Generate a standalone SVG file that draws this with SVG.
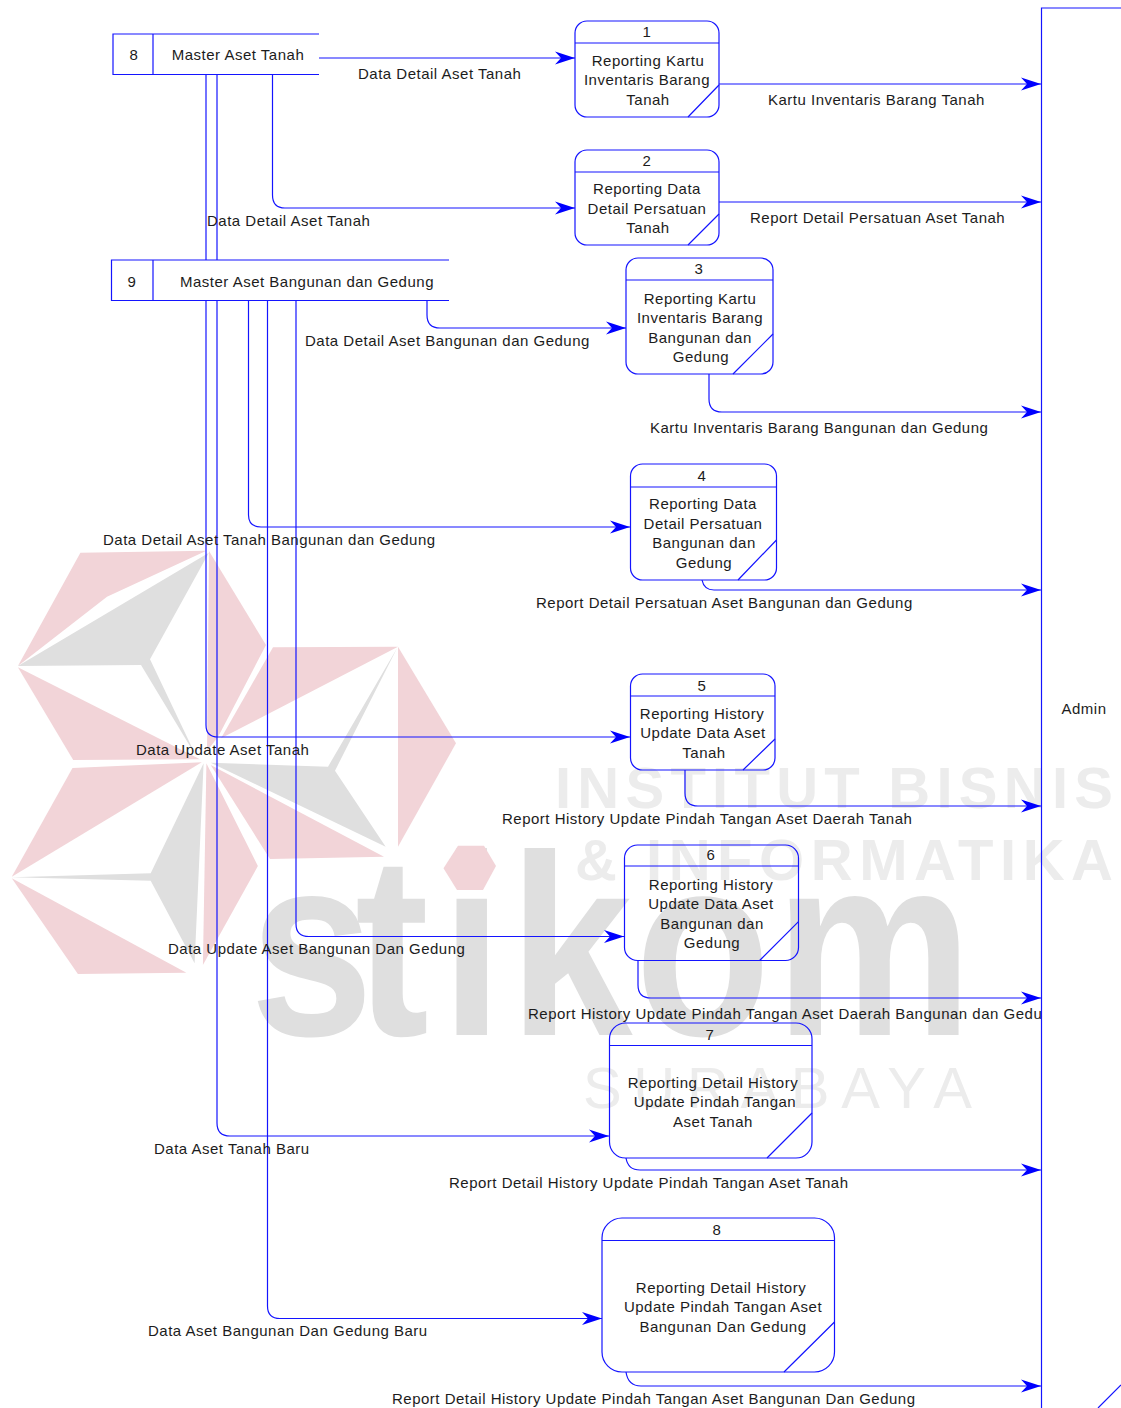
<svg xmlns="http://www.w3.org/2000/svg" width="1121" height="1408" viewBox="0 0 1121 1408">
<style>
text{font-family:"Liberation Sans",Arial,sans-serif;font-size:15px;fill:#1c1c1c;letter-spacing:.5px}
.m{text-anchor:middle}
.b{fill:none;stroke:#1414ff;stroke-width:1.2}
.c{fill:none;stroke:#1414ff;stroke-width:1.2;marker-end:url(#arr)}
.p{fill:#f2d4d8}
.g{fill:#dfdfdf}
text.w{font-weight:bold;font-size:58px;fill:#ececec;letter-spacing:0}
text.s{font-weight:bold;font-size:258px;fill:#dfdfdf;letter-spacing:0}
text.y{font-size:58px;fill:#ececec;letter-spacing:0}
</style>
<defs>
<marker id="arr" markerUnits="userSpaceOnUse" markerWidth="22" markerHeight="14" refX="20" refY="7" orient="auto">
<path d="M20,7 L0,0.5 L6,7 L0,13.5 Z" fill="#0000ff"/>
</marker>
<clipPath id="clipA"><rect x="0" y="0" width="1041" height="1408"/></clipPath>
</defs>
<rect width="1121" height="1408" fill="#fff"/>
<g id="watermark">
<polygon class="p" points="80.4,552.7 206.4,550.7 107,596.7 17.9,666"/>
<polygon class="g" points="208.9,552.7 17.9,666 141,665 196.4,756.7 150,659.3"/>
<polygon class="p" points="17.9,667.3 73.2,760 200,759.3"/>
<polygon class="p" points="209,551 266,645 218,737 207,751"/>
<polygon class="p" points="273,647.3 398,646.7 221,738.3"/>
<polygon class="g" points="397,648.3 328,766.7 210.7,762.7 385.7,846.7 335,770.7"/>
<polygon class="p" points="398,646.7 456,743.3 398,846.7"/>
<polygon class="p" points="210.7,765 384,856.7 270,859"/>
<polygon class="p" points="72.5,768 201.8,762.3 11.8,876.7"/>
<polygon class="g" points="203.6,763.3 150.7,873.3 11.8,877.3 150.7,880.7 194.6,963.3"/>
<polygon class="p" points="11.8,878.3 77.9,974 186.4,972.7"/>
<polygon class="p" points="206.4,763.3 257.9,866 202.9,965"/>
<text class="w" x="555" y="808" textLength="558" lengthAdjust="spacing">INSTITUT BISNIS</text>
<text class="w" x="575" y="880" textLength="538" lengthAdjust="spacing">&amp; INFORMATIKA</text>
<text class="y" x="583" y="1108" textLength="389" lengthAdjust="spacing">SURABAYA</text>
<text class="s" transform="scale(.86,1)" x="290.700 412.800 512.800 592 738.400 901.200" y="1035">stikom</text>
<polygon points="458,845.700 484,845.700 496,866 483,890 457,890 443.500,868.300" fill="#f2d4d8"/>
</g>
<g id="connectors">
<path class="c" d="M319,58 H575"/>
<path class="b" d="M206,75 V260"/>
<path class="b" d="M217,75 V260"/>
<path class="c" d="M272.5,75 V195 Q272.5,208 285,208 H575"/>
<path class="c" d="M719,84 H1041"/>
<path class="c" d="M719,202 H1041"/>
<path class="c" d="M427,301 V315 Q427,328 440,328 H626"/>
<path class="c" d="M709,374 V399 Q709,412 722,412 H1041"/>
<path class="c" d="M248.5,301 V515 Q248.5,527 261,527 H630"/>
<path class="c" d="M702,580 Q704,590 714,590 H1041"/>
<path class="c" d="M206,301 V725 Q206,737 218,737 H630"/>
<path class="c" d="M685,770 V793 Q685,806 698,806 H1041"/>
<path class="c" d="M296,301 V924 Q296,936.5 309,936.5 H624"/>
<path class="c" d="M638,960 V985 Q638,998 651,998 H1041"/>
<path class="c" d="M217,301 V1123 Q217,1136 230,1136 H609"/>
<path class="c" d="M626,1158 Q628,1170 640,1170 H1041"/>
<path class="c" d="M267.5,301 V1306 Q267.5,1318.5 280,1318.5 H602"/>
<path class="c" d="M626,1372 Q628,1386 641,1386 H1041"/>
</g>
<g id="connector-labels">
<text x="358" y="79">Data Detail Aset Tanah</text>
<text x="768" y="105">Kartu Inventaris Barang Tanah</text>
<text x="750" y="223">Report Detail Persatuan Aset Tanah</text>
<text x="207" y="226">Data Detail Aset Tanah</text>
<text x="305" y="346">Data Detail Aset Bangunan dan Gedung</text>
<text x="650" y="433">Kartu Inventaris Barang Bangunan dan Gedung</text>
<text x="103" y="545">Data Detail Aset Tanah Bangunan dan Gedung</text>
<text x="536" y="608">Report Detail Persatuan Aset Bangunan dan Gedung</text>
<text x="136" y="755">Data Update Aset Tanah</text>
<text x="502" y="824">Report History Update Pindah Tangan Aset Daerah Tanah</text>
<text x="168" y="954">Data Update Aset Bangunan Dan Gedung</text>
<text x="528" y="1019" clip-path="url(#clipA)">Report History Update Pindah Tangan Aset Daerah Bangunan dan Gedung</text>
<text x="154" y="1154">Data Aset Tanah Baru</text>
<text x="449" y="1188">Report Detail History Update Pindah Tangan Aset Tanah</text>
<text x="148" y="1336">Data Aset Bangunan Dan Gedung Baru</text>
<text x="392" y="1404">Report Detail History Update Pindah Tangan Aset Bangunan Dan Gedung</text>
</g>
<g id="store-8">
<path class="b" d="M319,34 H113 V74.5 H319 M153,34 V74.5"/>
<text class="m" x="134" y="60">8</text>
<text class="m" x="238" y="60">Master Aset Tanah</text>
</g>
<g id="store-9">
<path class="b" d="M449,260 H111.5 V300.5 H449 M153,260 V300.5"/>
<text class="m" x="132" y="287">9</text>
<text class="m" x="307" y="287">Master Aset Bangunan dan Gedung</text>
</g>
<g id="process-1">
<rect class="b" x="575" y="21" width="144" height="96" rx="12"/>
<path class="b" d="M575,43 H719 M688,117 L719,85"/>
<text class="m" x="647" y="37">1</text>
<text class="m" x="648" y="66">Reporting Kartu</text>
<text class="m" x="647" y="85">Inventaris Barang</text>
<text class="m" x="648" y="105">Tanah</text>
</g>
<g id="process-2">
<rect class="b" x="575" y="150" width="144" height="95" rx="12"/>
<path class="b" d="M575,172 H719 M688,245 L719,214"/>
<text class="m" x="647" y="166">2</text>
<text class="m" x="647" y="194">Reporting Data</text>
<text class="m" x="647" y="214">Detail Persatuan</text>
<text class="m" x="648" y="233">Tanah</text>
</g>
<g id="process-3">
<rect class="b" x="626" y="258" width="147" height="116" rx="12"/>
<path class="b" d="M626,280 H773 M733,374 L773,334"/>
<text class="m" x="699" y="274">3</text>
<text class="m" x="700" y="304">Reporting Kartu</text>
<text class="m" x="700" y="323">Inventaris Barang</text>
<text class="m" x="700" y="343">Bangunan dan</text>
<text class="m" x="701" y="362">Gedung</text>
</g>
<g id="process-4">
<rect class="b" x="630.5" y="464" width="146" height="116" rx="12"/>
<path class="b" d="M630.5,487 H776.5 M738,580 L776.5,540"/>
<text class="m" x="702" y="481">4</text>
<text class="m" x="703" y="509">Reporting Data</text>
<text class="m" x="703" y="529">Detail Persatuan</text>
<text class="m" x="704" y="548">Bangunan dan</text>
<text class="m" x="704" y="568">Gedung</text>
</g>
<g id="process-5">
<rect class="b" x="630.5" y="674" width="144.500" height="96" rx="12"/>
<path class="b" d="M630.5,696 H775 M743,770 L775,739"/>
<text class="m" x="702" y="691">5</text>
<text class="m" x="702" y="719">Reporting History</text>
<text class="m" x="703" y="738">Update Data Aset</text>
<text class="m" x="704" y="758">Tanah</text>
</g>
<g id="process-6">
<rect class="b" x="624.5" y="845" width="174" height="115.500" rx="13"/>
<path class="b" d="M624.500,866 H798.500 M759.600,960.500 L798.500,921.700"/>
<text class="m" x="711" y="860">6</text>
<text class="m" x="711" y="890">Reporting History</text>
<text class="m" x="711" y="909">Update Data Aset</text>
<text class="m" x="712" y="929">Bangunan dan</text>
<text class="m" x="712" y="948">Gedung</text>
</g>
<g id="process-7">
<rect class="b" x="609.500" y="1023" width="202.500" height="135" rx="16"/>
<path class="b" d="M609.500,1045.500 H812 M767,1158 L812,1113"/>
<text class="m" x="710" y="1040">7</text>
<text class="m" x="713" y="1088">Reporting Detail History</text>
<text class="m" x="715" y="1107">Update Pindah Tangan</text>
<text class="m" x="713" y="1127">Aset Tanah</text>
</g>
<g id="process-8">
<rect class="b" x="602" y="1218" width="232.500" height="154" rx="20"/>
<path class="b" d="M602,1240.500 H834.500 M784,1372 L834.500,1322"/>
<text class="m" x="717" y="1235">8</text>
<text class="m" x="721" y="1293">Reporting Detail History</text>
<text class="m" x="723" y="1312">Update Pindah Tangan Aset</text>
<text class="m" x="723" y="1332">Bangunan Dan Gedung</text>
</g>
<g id="admin">
<path class="b" d="M1121,8 H1041.500 V1408 M1098,1408 L1121,1385"/>
<text class="m" x="1084" y="714">Admin</text>
</g>
</svg>
